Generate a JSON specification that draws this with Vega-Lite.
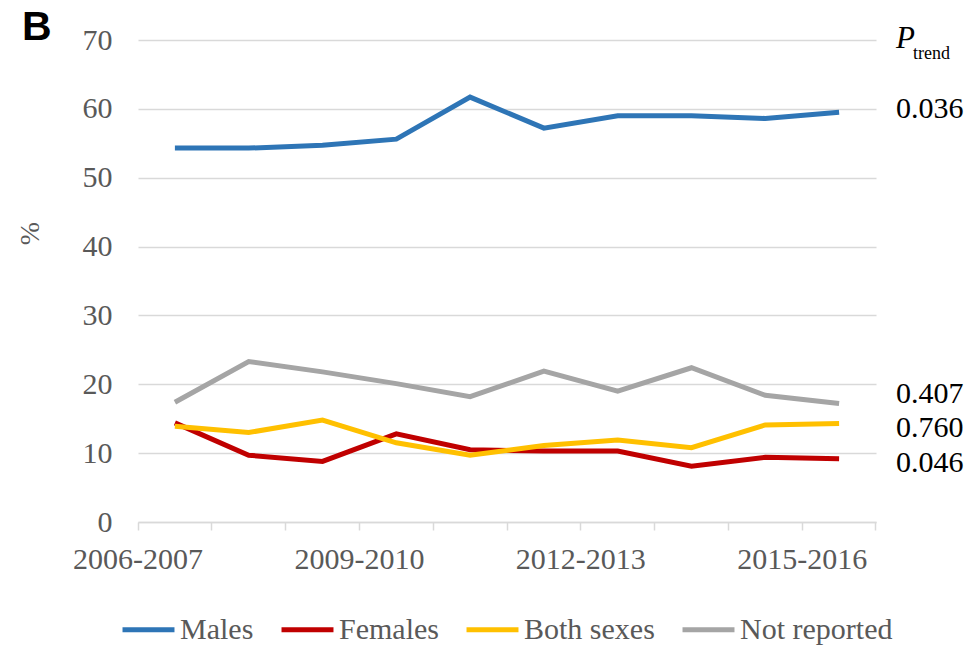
{
  "$schema": "https://vega.github.io/schema/vega-lite/v6.json",
  "width": 738,
  "height": 482,
  "autosize": "none",
  "padding": {"left": 138, "top": 40, "right": 102, "bottom": 124},
  "background": "white",
  "config": {"view": {"stroke": null}},
  "datasets": {
    "series": [
      {"period": "2006-2007", "series": "Males", "pct": 54.3},
      {"period": "2007-2008", "series": "Males", "pct": 54.3},
      {"period": "2008-2009", "series": "Males", "pct": 54.7},
      {"period": "2009-2010", "series": "Males", "pct": 55.6},
      {"period": "2010-2011", "series": "Males", "pct": 61.7},
      {"period": "2011-2012", "series": "Males", "pct": 57.2},
      {"period": "2012-2013", "series": "Males", "pct": 59.0},
      {"period": "2013-2014", "series": "Males", "pct": 59.0},
      {"period": "2014-2015", "series": "Males", "pct": 58.6},
      {"period": "2015-2016", "series": "Males", "pct": 59.5},
      {"period": "2006-2007", "series": "Females", "pct": 14.4},
      {"period": "2007-2008", "series": "Females", "pct": 9.7},
      {"period": "2008-2009", "series": "Females", "pct": 8.8},
      {"period": "2009-2010", "series": "Females", "pct": 12.8},
      {"period": "2010-2011", "series": "Females", "pct": 10.5},
      {"period": "2011-2012", "series": "Females", "pct": 10.3},
      {"period": "2012-2013", "series": "Females", "pct": 10.3},
      {"period": "2013-2014", "series": "Females", "pct": 8.1},
      {"period": "2014-2015", "series": "Females", "pct": 9.4},
      {"period": "2015-2016", "series": "Females", "pct": 9.2},
      {"period": "2006-2007", "series": "Both sexes", "pct": 13.9},
      {"period": "2007-2008", "series": "Both sexes", "pct": 13.0},
      {"period": "2008-2009", "series": "Both sexes", "pct": 14.8},
      {"period": "2009-2010", "series": "Both sexes", "pct": 11.5},
      {"period": "2010-2011", "series": "Both sexes", "pct": 9.7},
      {"period": "2011-2012", "series": "Both sexes", "pct": 11.1},
      {"period": "2012-2013", "series": "Both sexes", "pct": 11.9},
      {"period": "2013-2014", "series": "Both sexes", "pct": 10.8},
      {"period": "2014-2015", "series": "Both sexes", "pct": 14.1},
      {"period": "2015-2016", "series": "Both sexes", "pct": 14.3},
      {"period": "2006-2007", "series": "Not reported", "pct": 17.4},
      {"period": "2007-2008", "series": "Not reported", "pct": 23.3},
      {"period": "2008-2009", "series": "Not reported", "pct": 21.8},
      {"period": "2009-2010", "series": "Not reported", "pct": 20.1},
      {"period": "2010-2011", "series": "Not reported", "pct": 18.2},
      {"period": "2011-2012", "series": "Not reported", "pct": 21.9},
      {"period": "2012-2013", "series": "Not reported", "pct": 19.0},
      {"period": "2013-2014", "series": "Not reported", "pct": 22.4},
      {"period": "2014-2015", "series": "Not reported", "pct": 18.4},
      {"period": "2015-2016", "series": "Not reported", "pct": 17.2}
    ],
    "ptrend": [
      {"series": "Males", "p": "0.036", "at": 60},
      {"series": "Not reported", "p": "0.407", "at": 18.6},
      {"series": "Both sexes", "p": "0.760", "at": 13.6},
      {"series": "Females", "p": "0.046", "at": 8.6}
    ]
  },
  "layer": [
    {
      "data": {"name": "series"},
      "mark": {"type": "line", "strokeWidth": 5, "strokeJoin": "miter"},
      "encoding": {
        "x": {
          "field": "period",
          "type": "ordinal",
          "bandPosition": 0.5,
          "scale": {"type": "band", "paddingInner": 0, "paddingOuter": 0},
          "axis": {
            "title": null,
            "grid": false,
            "bandPosition": 1,
            "tickExtra": true,
            "tickColor": "#d9d9d9",
            "tickWidth": 1.5,
            "tickSize": 8,
            "domainColor": "#d9d9d9",
            "domainWidth": 1.5,
            "labelAngle": 0,
            "labelOffset": -36.9,
            "labelOverlap": false,
            "labelPadding": 14,
            "labelFont": "Liberation Serif",
            "labelFontSize": 30,
            "labelColor": "#595959",
            "labelExpr": "indexof(['2006-2007','2009-2010','2012-2013','2015-2016'], datum.value) >= 0 ? datum.label : ''"
          }
        },
        "y": {
          "field": "pct",
          "type": "quantitative",
          "title": "%",
          "scale": {"domain": [0, 70], "nice": false},
          "axis": {
            "values": [0, 10, 20, 30, 40, 50, 60, 70],
            "grid": true,
            "gridColor": "#d9d9d9",
            "gridWidth": 1.5,
            "domain": false,
            "ticks": false,
            "labelPadding": 26,
            "labelFont": "Liberation Serif",
            "labelFontSize": 30,
            "labelColor": "#595959",
            "titleFont": "Liberation Serif",
            "titleFontSize": 28,
            "titleFontWeight": "normal",
            "titleColor": "#595959",
            "titleAngle": 270,
            "titleAlign": "center",
            "titleBaseline": "middle",
            "titleX": -108,
            "titleY": 193
          }
        },
        "color": {
          "field": "series",
          "type": "nominal",
          "scale": {
            "domain": ["Males", "Females", "Both sexes", "Not reported"],
            "range": ["#2e75b6", "#c00000", "#ffc000", "#a5a5a5"]
          },
          "legend": {
            "title": null,
            "orient": "none",
            "legendX": -18,
            "legendY": 561,
            "direction": "horizontal",
            "symbolType": "stroke",
            "symbolSize": 2700,
            "symbolStrokeWidth": 5,
            "labelFont": "Liberation Serif",
            "labelFontSize": 30,
            "labelColor": "#595959",
            "labelOffset": 3,
            "columnPadding": 17
          }
        }
      }
    },
    {
      "data": {"name": "ptrend"},
      "mark": {"type": "text", "align": "left", "baseline": "middle", "dx": 20, "font": "Liberation Serif", "fontSize": 30, "color": "black"},
      "encoding": {
        "x": {"datum": "2015-2016", "type": "ordinal", "bandPosition": 1},
        "y": {"field": "at", "type": "quantitative", "title": "%"},
        "text": {"field": "p"}
      }
    },
    {
      "data": {"values": [{"head": "P"}]},
      "mark": {"type": "text", "align": "left", "baseline": "alphabetic", "dx": 20, "dy": 8, "font": "Liberation Serif", "fontStyle": "italic", "fontSize": 31, "color": "black"},
      "encoding": {
        "x": {"datum": "2015-2016", "type": "ordinal", "bandPosition": 1},
        "y": {"datum": 70, "type": "quantitative", "title": "%"},
        "text": {"field": "head"}
      }
    },
    {
      "data": {"values": [{"sub": "trend"}]},
      "mark": {"type": "text", "align": "left", "baseline": "alphabetic", "dx": 37, "dy": 19, "font": "Liberation Serif", "fontSize": 18, "color": "black"},
      "encoding": {
        "x": {"datum": "2015-2016", "type": "ordinal", "bandPosition": 1},
        "y": {"datum": 70, "type": "quantitative", "title": "%"},
        "text": {"field": "sub"}
      }
    },
    {
      "data": {"values": [{"panel": "B"}]},
      "mark": {"type": "text", "align": "left", "baseline": "alphabetic", "dx": -116, "font": "Liberation Sans", "fontWeight": "bold", "fontSize": 41, "color": "black"},
      "encoding": {
        "x": {"datum": "2006-2007", "type": "ordinal", "bandPosition": 0},
        "y": {"datum": 70, "type": "quantitative", "title": "%"},
        "text": {"field": "panel"}
      }
    }
  ]
}
